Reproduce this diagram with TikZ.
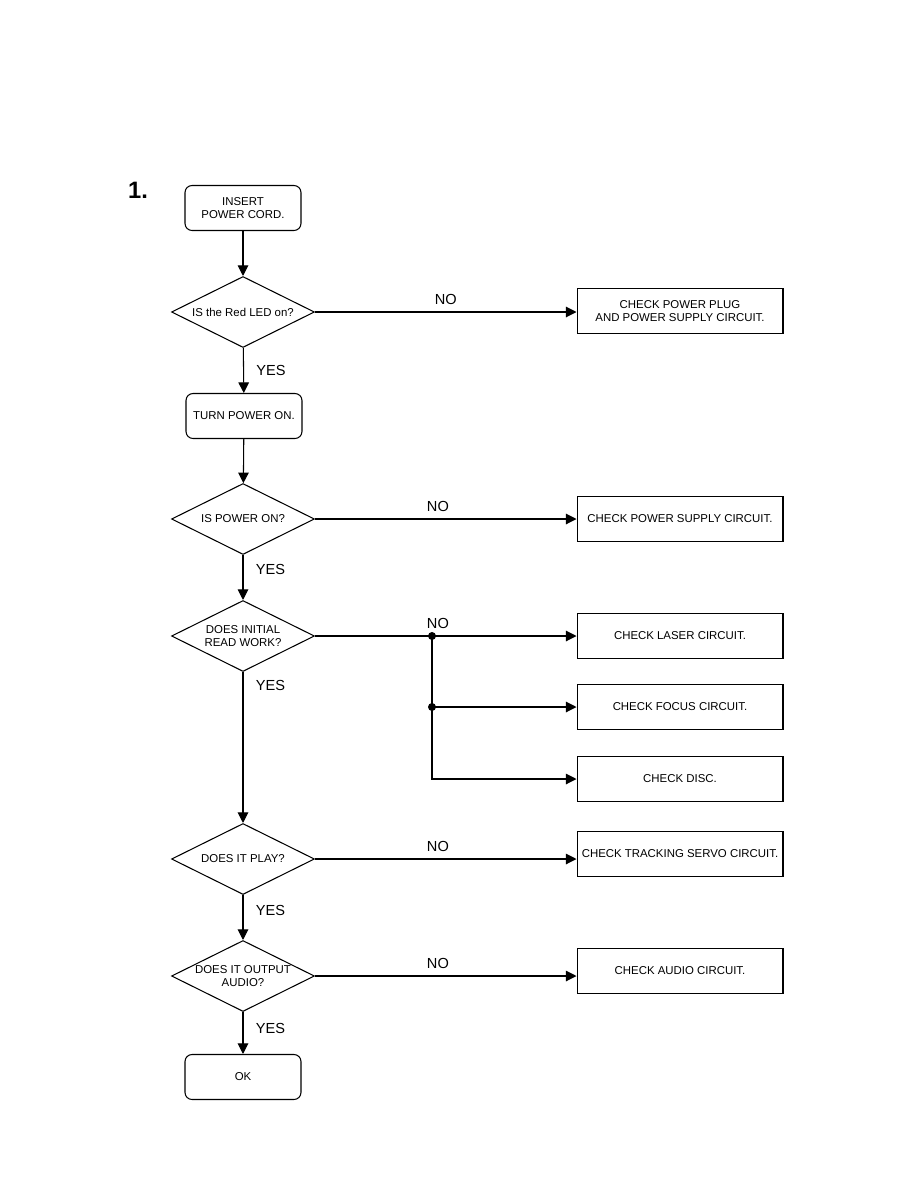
\documentclass[tikz,border=0pt]{standalone}
\usepackage{fontspec}
\setmainfont{Liberation Sans}
\usepackage{tikz}
\usetikzlibrary{arrows.meta, positioning, shapes.geometric, calc}

\begin{document}
\begin{tikzpicture}[
  x=0.02cm, y=-0.02cm,
  line width=0.6pt,
  font=\fontsize{6.5}{7.8}\selectfont,
  term/.style={rectangle, draw, rounded corners=4pt, minimum width=2.32cm,
               minimum height=0.9cm, align=center, inner sep=1pt},
  chk/.style={rectangle, draw, minimum width=4.12cm, minimum height=0.9cm,
              align=center, inner sep=1pt},
  ask/.style={diamond, draw, aspect=2, minimum width=2.86cm, minimum height=1.42cm,
              align=center, inner sep=0pt},
  arr/.style={-{Triangle[length=6pt, width=6pt]}},
  lbl/.style={font=\fontsize{8.3}{10}\selectfont, inner sep=1pt},
  dot/.style={circle, fill, inner sep=0pt, minimum size=0.16cm}
]
\useasboundingbox (0,0) rectangle (914,1190);

% --- Nodes ---
\node[font=\fontsize{13.5}{16}\selectfont\bfseries] (num) at (138,190) {1.};
\node[term] (start)   at (243,208)  {INSERT\\POWER CORD.};
\node[ask]  (led)     at (243,312)  {IS the Red LED on?};
\node[chk]  (plug)    at (680,311)  {CHECK POWER PLUG\\AND POWER SUPPLY CIRCUIT.};
\node[term] (turnon)  at (244,416)  {TURN POWER ON.};
\node[ask]  (pwr)     at (243,519)  {IS POWER ON?};
\node[chk]  (supply)  at (680,519)  {CHECK POWER SUPPLY CIRCUIT.};
\node[ask]  (init)    at (243,636)  {DOES INITIAL\\READ WORK?};
\node[chk]  (laser)   at (680,636)  {CHECK LASER CIRCUIT.};
\node[chk]  (focus)   at (680,707)  {CHECK FOCUS CIRCUIT.};
\node[chk]  (disc)    at (680,779)  {CHECK DISC.};
\node[ask]  (play)    at (243,859)  {DOES IT PLAY?};
\node[chk]  (track)   at (680,854)  {CHECK TRACKING SERVO CIRCUIT.};
\node[ask]  (audio)   at (243,976)  {DOES IT OUTPUT\\AUDIO?};
\node[chk]  (audchk)  at (680,971)  {CHECK AUDIO CIRCUIT.};
\node[term] (ok)      at (243,1077) {OK};

% --- main line ---
\draw[arr] (start) -- (led);
\draw[arr] (led) -- node[lbl, right=6pt, pos=0.5] {YES} (turnon);
\draw[arr] (turnon) -- (pwr);
\draw[arr] (pwr) -- node[lbl, right=6pt, pos=0.33] {YES} (init);
\draw[arr] (init) -- node[lbl, right=6pt, pos=0.09] {YES} (play);
\draw[arr] (play) -- node[lbl, right=6pt, pos=0.35] {YES} (audio);
\draw[arr] (audio) -- node[lbl, right=6pt, pos=0.4] {YES} (ok);

% --- NO branches ---
\draw[arr] (led.east) -- node[lbl, above=3pt, pos=0.5] {NO} (led.east -| plug.west);
\draw[arr] (pwr.east) -- node[lbl, above=3pt, pos=0.47] {NO} (pwr.east -| supply.west);
\draw[arr] (init.east) -- node[lbl, above=3pt, pos=0.47] {NO} (laser.west);
\draw[arr] (play.east) -- node[lbl, above=3pt, pos=0.47] {NO} (play.east -| track.west);
\draw[arr] (audio.east) -- node[lbl, above=3pt, pos=0.47] {NO} (audio.east -| audchk.west);

% initial read fan-out
\coordinate (split) at (432,636);
\coordinate (split2) at (split |- focus);
\node[dot] (d1) at (split) {};
\node[dot] (d2) at (split2) {};
\draw (d1.center) -- (d2.center);
\draw[arr] (d2.center) -- (focus.west);
\draw[arr] (d2.center) |- (disc.west);

\end{tikzpicture}
\end{document}
